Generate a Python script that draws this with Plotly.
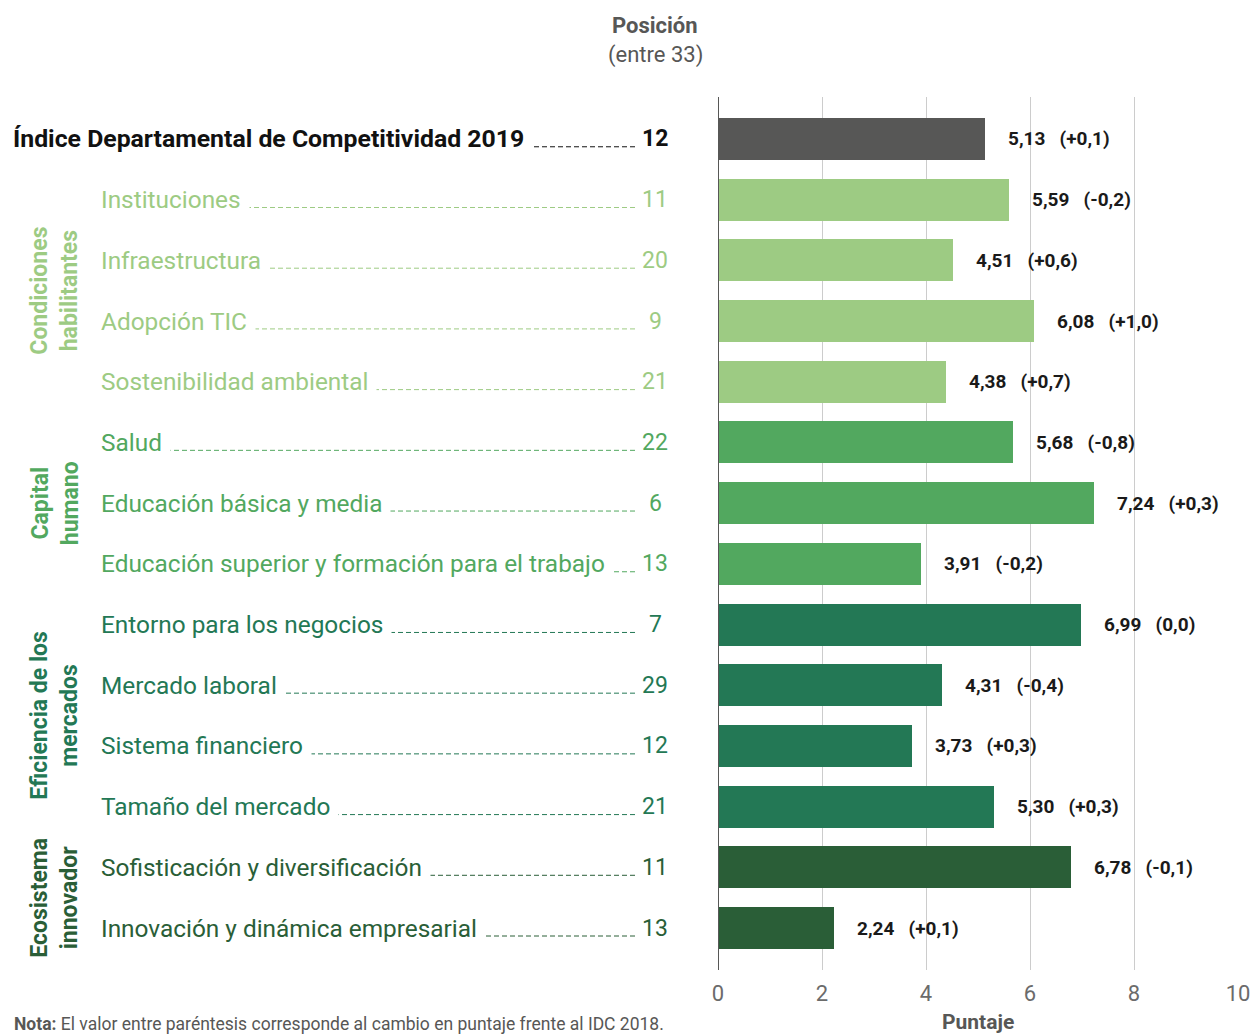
import plotly.graph_objects as go

labels = ["Índice Departamental de Competitividad 2019", "Instituciones", "Infraestructura",
          "Adopción TIC", "Sostenibilidad ambiental", "Salud", "Educación básica y media",
          "Educación superior y formación para el trabajo", "Entorno para los negocios",
          "Mercado laboral", "Sistema financiero", "Tamaño del mercado",
          "Sofisticación y diversificación", "Innovación y dinámica empresarial"]
positions = [12, 11, 20, 9, 21, 22, 6, 13, 7, 29, 12, 21, 11, 13]
scores = [5.13, 5.59, 4.51, 6.08, 4.38, 5.68, 7.24, 3.91, 6.99, 4.31, 3.73, 5.30, 6.78, 2.24]
changes = [0.1, -0.2, 0.6, 1.0, 0.7, -0.8, 0.3, -0.2, 0.0, -0.4, 0.3, 0.3, -0.1, 0.1]
row_group = ["idx", "ch", "ch", "ch", "ch", "hu", "hu", "hu", "ef", "ef", "ef", "ef", "ec", "ec"]
group_names = {"ch": "Condiciones<br>habilitantes", "hu": "Capital<br>humano",
               "ef": "Eficiencia de los<br>mercados", "ec": "Ecosistema<br>innovador"}
group_colors = {"idx": "#575756", "ch": "#9DCB83", "hu": "#52A85F", "ef": "#237855", "ec": "#2A5E37"}
text_colors = {"idx": "#111111", "ch": "#9DCB83", "hu": "#52A85F", "ef": "#237855", "ec": "#2A5E37"}

W, H = 1255, 1034
L, R, T, B = 718, 1238, 97, 970
FONT = "Roboto, sans-serif"


def px(x):
    return (x - L) / (R - L)


def py(y):
    return (B - y) / (B - T)


def fmt_num(v, d=2):
    return f"{v:.{d}f}".replace(".", ",")


def fmt_change(v):
    if abs(v) < 1e-9:
        return "0,0"
    return ("+" if v > 0 else "-") + fmt_num(abs(v), 1)


n = len(labels)
ys = list(range(n))

fig = go.Figure()
fig.add_trace(go.Bar(
    x=scores, y=ys, orientation="h", width=0.69,
    marker=dict(color=[group_colors[g] for g in row_group], line=dict(width=0)),
    hoverinfo="skip",
))

annotations = []
shapes = []

# value labels
for i in ys:
    annotations.append(dict(
        x=scores[i], y=i, xref="x", yref="y", xanchor="left", yanchor="middle",
        xshift=21, showarrow=False,
        text=f"<b>{fmt_num(scores[i])}&nbsp;&nbsp;&nbsp;({fmt_change(changes[i])})</b>",
        font=dict(family=FONT, size=19, color="#1a1a1a"),
    ))

# left labels with leaders
for i in ys:
    g = row_group[i]
    col = text_colors[g]
    start = 12 if g == "idx" else 100
    shapes.append(dict(
        type="line", xref="paper", yref="y",
        x0=px(start + 10), x1=px(636), y0=i + 0.13, y1=i + 0.13,
        line=dict(color=col, width=1, dash="5px,3px"),
    ))
    txt = f"<b>{labels[i]}</b>" if g == "idx" else labels[i]
    annotations.append(dict(
        x=px(start), y=i, xref="paper", yref="y", xanchor="left", yanchor="middle",
        showarrow=False, text=txt, bgcolor="white", borderpad=8, xshift=-8,
        font=dict(family=FONT, size=24.8 if g == "idx" else 24.4, color=col),
    ))
    ptxt = f"<b>{positions[i]}</b>" if g == "idx" else str(positions[i])
    annotations.append(dict(
        x=px(655), y=i, xref="paper", yref="y", xanchor="center", yanchor="middle",
        showarrow=False, text=ptxt,
        font=dict(family=FONT, size=23, color=col),
    ))

# group labels (vertical)
for g, name in group_names.items():
    rows = [i for i in ys if row_group[i] == g]
    annotations.append(dict(
        x=px(55), y=(rows[0] + rows[-1]) / 2, xref="paper", yref="y",
        xanchor="center", yanchor="middle", showarrow=False, textangle=-90,
        text=f"<b>{name}</b>",
        font=dict(family=FONT, size=23, color=group_colors[g]),
    ))

# header
annotations.append(dict(x=px(655), y=py(25), xref="paper", yref="paper", showarrow=False,
                        xanchor="center", yanchor="middle",
                        text="<b>Posición</b>", font=dict(family=FONT, size=22, color="#575756")))
annotations.append(dict(x=px(655), y=py(55), xref="paper", yref="paper", showarrow=False,
                        xanchor="center", yanchor="middle",
                        text="(entre 33)", font=dict(family=FONT, size=22, color="#575756")))
# x title
annotations.append(dict(x=px(978), y=py(1022), xref="paper", yref="paper", showarrow=False,
                        xanchor="center", yanchor="middle",
                        text="<b>Puntaje</b>", font=dict(family=FONT, size=21, color="#575756")))
# note
annotations.append(dict(x=px(12), y=py(1024), xref="paper", yref="paper", showarrow=False,
                        xanchor="left", yanchor="middle",
                        text="<b>Nota:</b> El valor entre paréntesis corresponde al cambio en puntaje frente al IDC 2018.",
                        font=dict(family=FONT, size=17.5, color="#575756")))

# zero axis line
shapes.append(dict(type="line", xref="x", yref="paper", x0=0, x1=0, y0=0, y1=1,
                   line=dict(color="#575756", width=2), layer="above"))

fig.update_layout(
    width=W, height=H, autosize=False,
    margin=dict(l=L, r=W - R, t=T, b=H - B, pad=0),
    paper_bgcolor="white", plot_bgcolor="white",
    showlegend=False, bargap=0,
    annotations=annotations, shapes=shapes,
    xaxis=dict(range=[0, 10], tickvals=[0, 2, 4, 6, 8, 10], showgrid=True,
               gridcolor="#cccccc", gridwidth=1, zeroline=False, showline=False,
               ticks="", ticklabelstandoff=8, automargin=False,
               tickfont=dict(family=FONT, size=22, color="#6b6b6b"), fixedrange=True),
    yaxis=dict(range=[n - 1 + 0.69, -0.69], showticklabels=False, showgrid=False,
               zeroline=False, showline=False, ticks="", fixedrange=True, automargin=False),
)

fig.write_html("out.html", config={"responsive": False, "displayModeBar": False},
               post_script="document.body.style.margin='0';document.body.style.overflow='hidden';")
